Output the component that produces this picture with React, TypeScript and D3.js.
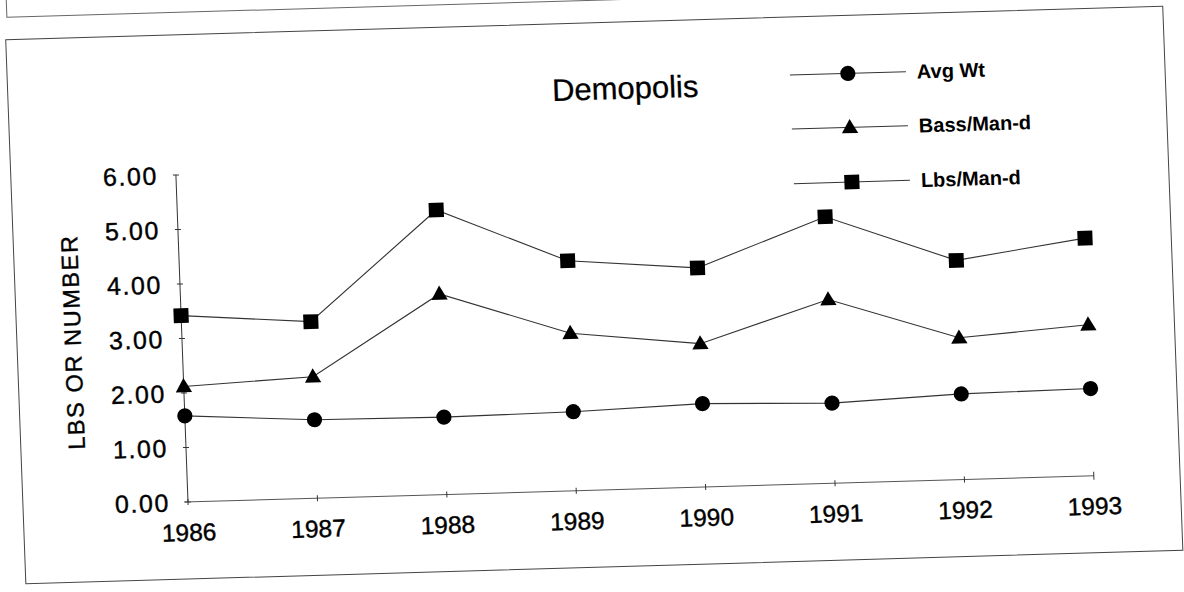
import React from "react";
import * as d3 from "d3";

const years = [1986, 1987, 1988, 1989, 1990, 1991, 1992, 1993];
const avgWt = [1.58, 1.44, 1.42, 1.45, 1.53, 1.47, 1.57, 1.6];
const bassPerManDay = [2.12, 2.23, 3.68, 2.89, 2.63, 3.37, 2.6, 2.77];
const lbsPerManDay = [3.42, 3.24, 5.22, 4.22, 4.02, 4.89, 4.02, 4.36];
const yTicks = [0, 1, 2, 3, 4, 5, 6];
const seriesNames = ["Avg Wt", "Bass/Man-d", "Lbs/Man-d"];
const title = "Demopolis";
const yTitle = "LBS OR NUMBER";

const W = 1184;
const H = 592;
const FONT = "'Liberation Sans', Arial, Helvetica, sans-serif";

export default function App() {
  const x = d3.scaleLinear().domain([1986, 1993]).range([188, 1093.8]);
  const y = d3.scaleLinear().domain([0, 6]).range([502, 175]);

  const series = [
    { name: seriesNames[0], values: avgWt, shape: "circle" },
    { name: seriesNames[1], values: bassPerManDay, shape: "triangle" },
    { name: seriesNames[2], values: lbsPerManDay, shape: "square" },
  ];

  const line = d3
    .line<number>()
    .x((_, i) => x(years[i]))
    .y((d) => y(d));

  const marker = (shape: string, cx: number, cy: number, key: string) => {
    if (shape === "circle") return <circle key={key} cx={cx} cy={cy} r={7.6} fill="#000" />;
    if (shape === "square")
      return <rect key={key} x={cx - 7.5} y={cy - 7.3} width={15} height={14.6} fill="#000" />;
    const tri = d3.symbol().type(d3.symbolTriangle).size(115)();
    return <path key={key} d={tri || ""} transform={`translate(${cx},${cy + 1})`} fill="#000" />;
  };

  // the scanned page is slightly skewed
  const skew = `matrix(1,-0.029,0.037,1,${-0.037 * 502},${0.029 * 188})`;

  const legendX = 863;
  const legendY = [93, 147, 201.6];

  return (
    <svg
      width={W}
      height={H}
      style={{ position: "absolute", left: 0, top: 0, display: "block", background: "#fff" }}
    >
      <rect x={0} y={0} width={W} height={H} fill="#fff" />
      <g transform={skew} fontFamily={FONT}>
        {/* edge of previous box */}
        <path d="M25,-40 L25,12.6 L1300,12.6" fill="none" stroke="#666" strokeWidth={1} />
        {/* chart box */}
        <rect x={23} y={35} width={1157} height={544} fill="none" stroke="#444" strokeWidth={1} />

        {/* title */}
        <text x={640} y={112} textAnchor="middle" fontSize={31} fill="#000" stroke="#000" strokeWidth={0.3}>
          {title}
        </text>

        {/* y axis */}
        <line x1={x(1986)} x2={x(1986)} y1={y(6)} y2={y(0)} stroke="#333" strokeWidth={1} />
        {yTicks.map((t) => (
          <g key={t}>
            <line x1={x(1986) - 3} x2={x(1986) + 3} y1={y(t)} y2={y(t)} stroke="#333" strokeWidth={1} />
            <text
              x={170}
              y={y(t)}
              dy="0.36em"
              textAnchor="end"
              fontSize={25}
              letterSpacing={1.6}
              fill="#000"
              stroke="#000"
              strokeWidth={0.4}
            >
              {t.toFixed(2)}
            </text>
          </g>
        ))}
        <text
          transform={`translate(87,339) rotate(-90)`}
          textAnchor="middle"
          fontSize={23.5}
          letterSpacing={1.6}
          fill="#000"
          stroke="#000"
          strokeWidth={0.4}
        >
          {yTitle}
        </text>

        {/* x axis */}
        <line x1={x(1986) - 4} x2={x(1993)} y1={y(0)} y2={y(0)} stroke="#555" strokeWidth={1} />
        {years.map((yr, i) => (
          <g key={yr}>
            <line
              x1={x(yr)}
              x2={x(yr)}
              y1={y(0) - (i === years.length - 1 ? 4 : 3)}
              y2={y(0) + (i === years.length - 1 ? 4 : 3)}
              stroke="#333"
              strokeWidth={1}
            />
            <text
              x={x(yr)}
              y={541}
              textAnchor="middle"
              fontSize={24.5}
              fill="#000"
              stroke="#000"
              strokeWidth={0.4}
            >
              {yr}
            </text>
          </g>
        ))}

        {/* series */}
        {series.map((s) => (
          <g key={s.name}>
            <path d={line(s.values) || ""} fill="none" stroke="#333" strokeWidth={1.1} />
            {s.values.map((v, i) => marker(s.shape, x(years[i]), y(v), `${s.name}-${i}`))}
          </g>
        ))}

        {/* legend */}
        {series.map((s, i) => (
          <g key={`lg-${s.name}`}>
            <line x1={legendX - 58} x2={legendX + 58} y1={legendY[i]} y2={legendY[i]} stroke="#333" strokeWidth={1} />
            {marker(s.shape, legendX, legendY[i], `lgm-${i}`)}
            <text x={legendX + 69} y={legendY[i] + 7} fontSize={20} fontWeight="bold" fill="#000">
              {s.name}
            </text>
          </g>
        ))}
      </g>
    </svg>
  );
}
